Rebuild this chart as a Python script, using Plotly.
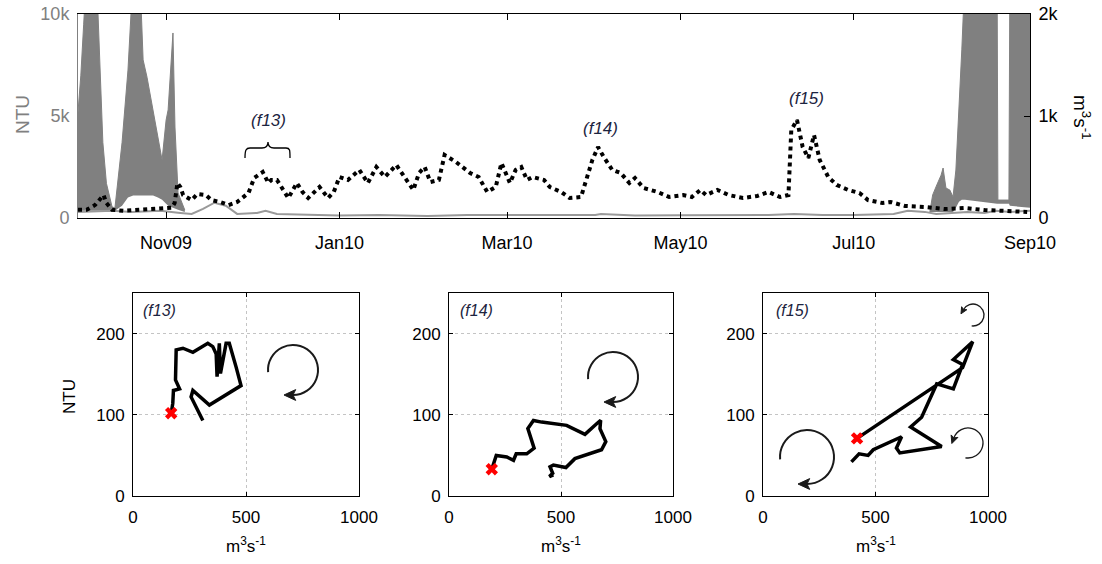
import math
import plotly.graph_objects as go

W, H = 1102, 564

# ---------------- data ----------------
q_dates = ["2009-10-01","2009-10-04","2009-10-07","2009-10-10","2009-10-11","2009-10-13","2009-10-17",
           "2009-10-23","2009-10-29","2009-11-03","2009-11-04","2009-11-05","2009-11-06","2009-11-07",
           "2009-11-10","2009-11-12","2009-11-15","2009-11-17","2009-11-20","2009-11-23","2009-11-26",
           "2009-11-30","2009-12-02","2009-12-05","2009-12-07","2009-12-08","2009-12-10","2009-12-12",
           "2009-12-14","2009-12-17","2009-12-19","2009-12-21","2009-12-25","2009-12-28","2009-12-30",
           "2010-01-01","2010-01-04","2010-01-08","2010-01-11","2010-01-14","2010-01-17","2010-01-21",
           "2010-01-24","2010-01-27","2010-01-29","2010-01-31","2010-02-02","2010-02-05","2010-02-07",
           "2010-02-11","2010-02-16","2010-02-19","2010-02-22","2010-02-25","2010-02-27","2010-03-02",
           "2010-03-04","2010-03-06","2010-03-08","2010-03-10","2010-03-14","2010-03-16","2010-03-20",
           "2010-03-23","2010-03-27","2010-03-29","2010-03-31","2010-04-02","2010-04-04","2010-04-07",
           "2010-04-10","2010-04-13","2010-04-15","2010-04-18","2010-04-23","2010-04-27","2010-05-02",
           "2010-05-05","2010-05-08","2010-05-10","2010-05-14","2010-05-18","2010-05-23","2010-05-28",
           "2010-06-01","2010-06-05","2010-06-08","2010-06-09","2010-06-11","2010-06-13","2010-06-15",
           "2010-06-17","2010-06-19","2010-06-22","2010-06-25","2010-06-29","2010-07-03","2010-07-06",
           "2010-07-11","2010-07-14","2010-07-19","2010-07-26","2010-08-02","2010-08-09","2010-08-16",
           "2010-08-24","2010-08-31"]
q_vals = [80,80,127,225,147,80,70,
          80,90,100,147,343,304,225,
          176,235,225,176,157,127,157,
          245,392,451,343,373,373,275,
          196,343,255,196,304,196,255,
          402,373,471,343,500,402,520,
          402,275,441,500,353,373,618,
          549,441,402,255,304,539,343,
          471,500,373,402,373,304,255,
          196,206,373,569,696,598,471,
          441,343,392,294,255,206,225,
          206,275,225,275,225,196,216,
          255,206,225,863,961,696,588,
          814,569,402,324,275,245,176,
          147,157,118,108,88,98,78,
          69,59]

ntu_floor_dates = ["2009-10-01","2009-10-13","2009-10-20","2009-10-30","2009-11-06","2009-11-10","2009-11-14",
                   "2009-11-18","2009-11-22","2009-11-26","2009-12-03","2009-12-06","2009-12-10","2009-12-20",
                   "2010-01-01","2010-01-15","2010-02-01","2010-02-15","2010-03-01","2010-03-15","2010-04-01",
                   "2010-04-03","2010-04-15","2010-05-01","2010-05-15","2010-06-01","2010-06-10","2010-06-20",
                   "2010-07-01","2010-07-15","2010-07-20","2010-07-26","2010-07-30","2010-08-05","2010-08-10",
                   "2010-08-16","2010-08-20","2010-08-25","2010-09-01"]
ntu_floor_vals = [300,350,300,350,250,200,450,
                  750,600,200,250,350,200,150,
                  120,150,100,150,150,120,150,
                  200,120,130,150,150,200,150,
                  150,200,350,300,200,250,300,
                  250,350,300,350]

band1_dates = ["2009-10-01","2009-10-02","2009-10-03","2009-10-04","2009-10-07 12:00","2009-10-08 18:00",
               "2009-10-09 18:00","2009-10-11","2009-10-13","2009-10-14","2009-10-16 12:00","2009-10-18 14:00",
               "2009-10-20 10:00","2009-10-22 18:00","2009-10-23 22:00","2009-10-25 07:00","2009-10-27 10:00",
               "2009-10-29 03:00","2009-10-30 14:00","2009-11-01","2009-11-01 17:00","2009-11-03 10:00",
               "2009-11-04 03:00","2009-11-05 05:00","2009-11-07 14:00"]
band1_upper = [5200,7000,9500,12000,12000,6900,
               3700,1700,540,500,3700,7250,
               12000,12000,7750,6900,5300,
               3970,2840,4800,5300,9070,
               4460,1230,390]
band1_lower = [350,350,350,350,350,350,
               350,350,350,350,600,1000,
               1100,1100,1100,1100,1100,
               1000,900,700,600,500,
               450,400,300]

band2_dates = ["2010-07-27 18:00","2010-07-28 18:00","2010-07-30 05:00","2010-07-31 17:00","2010-08-01 10:00",
               "2010-08-02 10:00","2010-08-03 19:00","2010-08-04 22:00","2010-08-05 22:00","2010-08-07",
               "2010-08-08","2010-08-09 03:00","2010-08-20 10:00","2010-08-20 17:00","2010-08-24 14:00",
               "2010-08-24 22:00","2010-09-01"]
band2_upper = [300,1130,1620,2100,2450,
               1470,1370,1030,2350,5300,
               8240,12000,12000,880,880,
               12000,12000]
band2_lower = [300,300,300,300,300,
               300,300,300,500,800,
               900,900,700,700,700,
               600,500]

tick_dates = ["2009-11-01","2010-01-01","2010-03-01","2010-05-01","2010-07-01","2010-09-01"]
tick_text = ["Nov09","Jan10","Mar10","May10","Jul10","Sep10"]

f13_q = [169,176,179,206,188,191,221,265,331,353,368,372,382,387,412,426,456,478,338,265,257,309]
f13_ntu = [102,114,130,132,143,180,182,177,188,184,175,147,188,151,188,188,159,136,112,130,122,93]
f14_q = [191,211,258,288,300,347,380,359,352,377,414,525,607,659,677,674,700,681,629,562,522,466,451,463,448,466]
f14_ntu = [33,50,48,44,52,52,59,77,83,93,91,87,76,89,93,83,67,57,52,46,35,38,36,28,24,26]
f15_q = [418,887,932,846,887,846,772,705,656,794,608,593,616,542,490,467,427,393]
f15_ntu = [71,158,190,168,162,132,138,97,85,61,53,59,73,63,57,50,52,42]

FONT = "Liberation Sans, Arial, sans-serif"
GRAY = "#808080"
NAVY = "#1c2440"

def px(x): return x / W
def py(y): return (H - y) / H

fig = go.Figure()

# ---------------- top panel ----------------
fig.add_trace(go.Scatter(x=band1_dates, y=band1_lower, mode="lines", line=dict(width=0, color=GRAY),
                         xaxis="x", yaxis="y", showlegend=False, hoverinfo="skip"))
fig.add_trace(go.Scatter(x=band1_dates, y=band1_upper, mode="lines", line=dict(width=1, color=GRAY),
                         fill="tonexty", fillcolor=GRAY, xaxis="x", yaxis="y", showlegend=False))
fig.add_trace(go.Scatter(x=band2_dates, y=band2_lower, mode="lines", line=dict(width=0, color=GRAY),
                         xaxis="x", yaxis="y", showlegend=False, hoverinfo="skip"))
fig.add_trace(go.Scatter(x=band2_dates, y=band2_upper, mode="lines", line=dict(width=1, color=GRAY),
                         fill="tonexty", fillcolor=GRAY, xaxis="x", yaxis="y", showlegend=False))
fig.add_trace(go.Scatter(x=ntu_floor_dates, y=ntu_floor_vals, mode="lines", line=dict(width=2, color="#9a9a9a"),
                         xaxis="x", yaxis="y", showlegend=False))
fig.add_trace(go.Scatter(x=q_dates, y=q_vals, mode="lines", line=dict(width=4, color="black", dash="dot"),
                         xaxis="x", yaxis="y2", showlegend=False))

# ---------------- bottom panels ----------------
panels = [(f13_q, f13_ntu, "x2", "y3"), (f14_q, f14_ntu, "x3", "y4"), (f15_q, f15_ntu, "x4", "y5")]
for qs, ns, xa, ya in panels:
    fig.add_trace(go.Scatter(x=qs, y=ns, mode="lines", line=dict(width=3.5, color="black"),
                             xaxis=xa, yaxis=ya, showlegend=False))
    fig.add_trace(go.Scatter(x=qs[:1], y=ns[:1], mode="markers",
                             marker=dict(symbol="x", size=11, color="red", line=dict(width=0)),
                             xaxis=xa, yaxis=ya, showlegend=False))

tickfont = dict(family=FONT, size=18, color="black")
layout = dict(
    width=W, height=H, autosize=False,
    margin=dict(l=0, r=0, t=0, b=0, pad=0, autoexpand=False),
    paper_bgcolor="white", plot_bgcolor="white",
    showlegend=False,
    xaxis=dict(type="date", domain=[px(78), px(1030)], range=["2009-10-01", "2010-09-01"],
               anchor="y", tickmode="array", tickvals=tick_dates, ticktext=tick_text,
               ticks="inside", ticklen=6, tickcolor="black", showline=True, linecolor="black",
               linewidth=1, mirror="ticks", showgrid=False, zeroline=False, automargin=False,
               ticklabeloverflow="allow", tickfont=tickfont, ticklabelstandoff=8),
    yaxis=dict(domain=[py(218), py(14)], range=[0, 10000], anchor="x", tickmode="array",
               tickvals=[0, 5000, 10000], ticktext=["0", "5k", "10k"], ticks="inside", ticklen=6,
               tickcolor=GRAY, showline=True, linecolor=GRAY, linewidth=1, showgrid=False,
               zeroline=False, automargin=False, ticklabeloverflow="allow",
               tickfont=dict(family=FONT, size=18, color=GRAY), ticklabelstandoff=4),
    yaxis2=dict(overlaying="y", side="right", anchor="x", range=[0, 2000], tickmode="array",
                tickvals=[0, 1000, 2000], ticktext=["0", "1k", "2k"], ticks="inside", ticklen=6,
                tickcolor="black", showline=True, linecolor="black", linewidth=1, showgrid=False,
                zeroline=False, automargin=False, ticklabeloverflow="allow",
                tickfont=tickfont, ticklabelstandoff=4),
)

small_font = dict(family=FONT, size=17, color="black")
xdoms = [(133, 359), (449, 673), (763, 988)]
for i, (x0, x1) in enumerate(xdoms):
    xk = "xaxis%d" % (i + 2)
    yk = "yaxis%d" % (i + 3)
    layout[xk] = dict(domain=[px(x0), px(x1)], range=[0, 1000], anchor="y%d" % (i + 3),
                      tickmode="array", tickvals=[0, 500, 1000], ticks="inside", ticklen=4,
                      tickcolor="black", showline=True, linecolor="black", linewidth=1, mirror="ticks",
                      showgrid=True, gridcolor="#c4c4c4", griddash="dot", gridwidth=1, automargin=False,
                      ticklabeloverflow="allow", zeroline=False, tickfont=small_font, ticklabelstandoff=6)
    layout[yk] = dict(domain=[py(496), py(293)], range=[0, 250], anchor="x%d" % (i + 2),
                      tickmode="array", tickvals=[0, 100, 200], ticks="inside", ticklen=4,
                      tickcolor="black", showline=True, linecolor="black", linewidth=1, mirror="ticks",
                      showgrid=True, gridcolor="#c4c4c4", griddash="dot", gridwidth=1, automargin=False,
                      ticklabeloverflow="allow", zeroline=False, tickfont=small_font, ticklabelstandoff=4)

fig.update_layout(**layout)

# ---------------- annotations ----------------
ann = []
def A(text, x, y, size=17, color="black", angle=0, xanchor="center", yanchor="middle"):
    ann.append(dict(text=text, x=px(x), y=py(y), xref="paper", yref="paper", showarrow=False,
                    font=dict(family=FONT, size=size, color=color), textangle=angle,
                    xanchor=xanchor, yanchor=yanchor))

A("NTU", 22, 115, size=19, color=GRAY, angle=-90)
A("m<sup>3</sup>s<sup>-1</sup>", 1082, 117, size=19, angle=90)
A("<i>(f13)</i>", 268, 121, size=17, color=NAVY)
A("<i>(f14)</i>", 600, 129, size=17, color=NAVY)
A("<i>(f15)</i>", 806, 99, size=17, color=NAVY)
A("<i>(f13)</i>", 141, 310, size=16, color=NAVY, xanchor="left")
A("<i>(f14)</i>", 458, 311, size=16, color=NAVY, xanchor="left")
A("<i>(f15)</i>", 774, 311, size=16, color=NAVY, xanchor="left")
A("NTU", 69, 397, size=17, angle=-90)
for (x0, x1) in xdoms:
    A("m<sup>3</sup>s<sup>-1</sup>", (x0 + x1) / 2, 545, size=17)
fig.update_layout(annotations=ann)

# ---------------- decorations (brace, loop arrows) ----------------
def P(x, y):
    return "%.5f %.5f" % (px(x), py(y))

shapes = []
brace = ("M " + P(245, 158) + " C " + P(245, 150) + ", " + P(246, 148) + ", " + P(250, 148) +
         " L " + P(262, 148) + " C " + P(266, 148) + ", " + P(268, 146) + ", " + P(268, 142) +
         " C " + P(268, 146) + ", " + P(270, 148) + ", " + P(274, 148) +
         " L " + P(286, 148) + " C " + P(290, 148) + ", " + P(290, 150) + ", " + P(290, 158))
shapes.append(dict(type="path", path=brace, xref="paper", yref="paper", line=dict(color="black", width=1.3)))

def loop_arrow(cx, cy, r, a0, a1, width, head):
    n = max(1, int(math.ceil(abs(a1 - a0) / 90.0)))
    step = (a1 - a0) / n
    t = math.radians(a0)
    path = "M " + P(cx + r * math.cos(t), cy + r * math.sin(t))
    for i in range(n):
        t0 = math.radians(a0 + i * step)
        t1 = math.radians(a0 + (i + 1) * step)
        k = 4.0 / 3.0 * math.tan((t1 - t0) / 4.0)
        p0 = (cx + r * math.cos(t0), cy + r * math.sin(t0))
        p3 = (cx + r * math.cos(t1), cy + r * math.sin(t1))
        p1 = (p0[0] - k * r * math.sin(t0), p0[1] + k * r * math.cos(t0))
        p2 = (p3[0] + k * r * math.sin(t1), p3[1] - k * r * math.cos(t1))
        path += " C " + P(*p1) + ", " + P(*p2) + ", " + P(*p3)
    shapes.append(dict(type="path", path=path, xref="paper", yref="paper",
                       line=dict(color="#1a1a1a", width=width)))
    te = math.radians(a1)
    sgn = 1 if a1 > a0 else -1
    ex, ey = cx + r * math.cos(te), cy + r * math.sin(te)
    dx, dy = -math.sin(te) * sgn, math.cos(te) * sgn
    nx, ny = -dy, dx
    tip = (ex + dx * head, ey + dy * head)
    b1 = (ex - dx * head * 0.3 + nx * head * 0.6, ey - dy * head * 0.3 + ny * head * 0.6)
    b2 = (ex - dx * head * 0.3 - nx * head * 0.6, ey - dy * head * 0.3 - ny * head * 0.6)
    tri = "M " + P(*tip) + " L " + P(*b1) + " L " + P(ex, ey) + " L " + P(*b2) + " Z"
    shapes.append(dict(type="path", path=tri, xref="paper", yref="paper",
                       line=dict(color="#1a1a1a", width=1), fillcolor="#1a1a1a"))

loop_arrow(293, 370, 25, 175, 450, 2.0, 9)
loop_arrow(613, 377, 25, 175, 450, 2.0, 9)
loop_arrow(807, 457, 27, 175, 450, 2.0, 9)
loop_arrow(973, 315, 11, 97, -150, 1.3, 5)
loop_arrow(968, 443, 15, 100, -160, 1.3, 6)

fig.update_layout(shapes=shapes)

# remove the default page margin so the figure sits at the window's top-left corner
fig.write_html("out.html", config={"displayModeBar": False},
               post_script="document.body.style.margin='0px';")
